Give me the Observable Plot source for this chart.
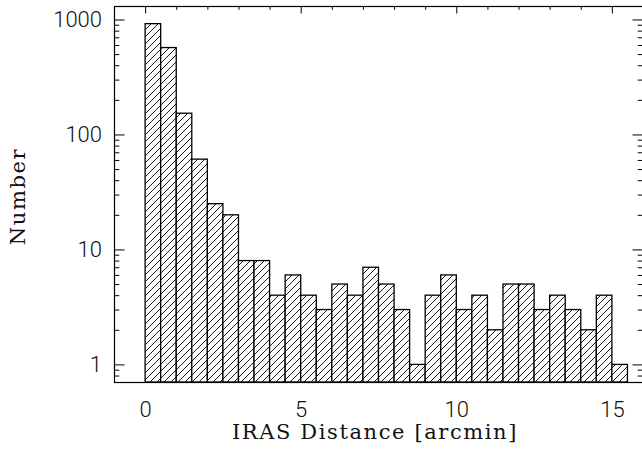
<!DOCTYPE html>
<html>
<head>
<meta charset="utf-8">
<script src="https://cdn.jsdelivr.net/npm/d3@7"></script>
<script src="https://cdn.jsdelivr.net/npm/@observablehq/plot@0.6"></script>
<style>
  html, body { margin: 0; padding: 0; background: #fff; overflow: hidden; }
</style>
</head>
<body>
<div id="chart"></div>
<script>
// Histogram of IRAS counterpart distances, 0.5 arcmin bins
const binLower = [0, 0.5, 1, 1.5, 2, 2.5, 3, 3.5, 4, 4.5, 5, 5.5, 6, 6.5, 7, 7.5,
                  8, 8.5, 9, 9.5, 10, 10.5, 11, 11.5, 12, 12.5, 13, 13.5, 14, 14.5, 15];
const counts   = [920, 570, 153, 61, 25, 20, 8, 8, 4, 6, 4, 3, 5, 4, 7, 5,
                  3, 1, 4, 6, 3, 4, 2, 5, 5, 3, 4, 3, 2, 4, 1];
const binWidth = 0.5;

// Axis ticks
const xMajor = [0, 5, 10, 15];
const xMinor = [1, 2, 3, 4, 6, 7, 8, 9, 11, 12, 13, 14, 16];
const yMajor = [1, 10, 100, 1000];
const yMinor = [0.8, 0.9, 2, 3, 4, 5, 6, 7, 8, 9, 20, 30, 40, 50, 60, 70, 80, 90,
                200, 300, 400, 500, 600, 700, 800, 900];

const xTitle = "IRAS Distance [arcmin]";
const yTitle = "Number";

const xDomain = [-1, 16];
const yDomain = [0.703, 1310];

const W = 642, H = 452;
const mL = 114, mR = -1, mT = 6, mB = 70;
const plotW = W - mL - mR, plotH = H - mT - mB;

const bins = binLower.map((x0, i) => ({x1: x0, x2: x0 + binWidth, n: counts[i]}));

const tickFont = {fontFamily: "Roboto, 'DejaVu Sans', sans-serif", fontWeight: 300, fontSize: 22, fill: "#111"};
const titleFont = {fontFamily: "'DejaVu Serif', serif", fontSize: 21, fill: "#111"};

const chart = Plot.plot({
  width: W,
  height: H,
  marginLeft: mL,
  marginRight: mR,
  marginTop: mT,
  marginBottom: mB,
  style: {background: "white", overflow: "hidden"},
  x: {domain: xDomain, axis: null},
  y: {type: "log", domain: yDomain, axis: null},
  marks: [
    // bottom ticks (lie on bar edges)
    Plot.tickX(xMajor, {x: d => d, stroke: "black", insetTop: plotH - 7.5}),
    Plot.tickX(xMinor, {x: d => d, stroke: "black", insetTop: plotH - 3.8}),
    // hatched bars
    Plot.rectY(bins, {
      x1: "x1", x2: "x2", y1: yDomain[0], y2: "n",
      fill: "url(#hatch)", stroke: "black", strokeWidth: 1.3
    }),
    // frame
    Plot.frame({stroke: "black", strokeWidth: 1.2}),
    // top ticks
    Plot.tickX(xMajor, {x: d => d, stroke: "black", insetBottom: plotH - 7.5}),
    Plot.tickX(xMinor, {x: d => d, stroke: "black", insetBottom: plotH - 3.8}),
    // left ticks
    Plot.tickY(yMajor, {y: d => d, stroke: "black", insetRight: plotW - 10.5}),
    Plot.tickY(yMinor, {y: d => d, stroke: "black", insetRight: plotW - 5.3}),
    // right ticks
    Plot.tickY(yMajor, {y: d => d, stroke: "black", insetLeft: plotW - 10.5}),
    Plot.tickY(yMinor, {y: d => d, stroke: "black", insetLeft: plotW - 5.3}),
    // tick labels
    Plot.text(yMajor, {
      y: d => d, text: d => String(d), frameAnchor: "left",
      textAnchor: "end", lineAnchor: "middle", dx: -12.5, ...tickFont
    }),
    Plot.text(xMajor, {
      x: d => d, text: d => String(d), frameAnchor: "bottom",
      textAnchor: "middle", lineAnchor: "bottom", dy: 34, ...tickFont
    }),
    // axis titles
    Plot.text([xTitle], {
      text: d => d, frameAnchor: "bottom", textAnchor: "middle",
      lineAnchor: "bottom", dy: 56, dx: -4, ...titleFont
    }),
    Plot.text([yTitle], {
      text: d => d, frameAnchor: "left", rotate: -90, textAnchor: "middle",
      lineAnchor: "middle", dx: -96, dy: 2, ...titleFont
    })
  ]
});

// wider letter spacing on the axis titles
d3.select(chart).selectAll("text")
  .filter(function() { return this.textContent === xTitle || this.textContent === yTitle; })
  .attr("letter-spacing", 1.6);

// diagonal line pattern used to fill the bars
const defs = d3.select(chart).insert("defs", ":first-child");
const pat = defs.append("pattern")
  .attr("id", "hatch")
  .attr("patternUnits", "userSpaceOnUse")
  .attr("width", 7)
  .attr("height", 7);
pat.append("rect").attr("width", 7).attr("height", 7).attr("fill", "white");
pat.append("path")
  .attr("d", "M-1,1 L1,-1 M0,7 L7,0 M6,8 L8,6")
  .attr("stroke", "black")
  .attr("stroke-width", 0.9);

document.getElementById("chart").append(chart);
</script>
</body>
</html>
